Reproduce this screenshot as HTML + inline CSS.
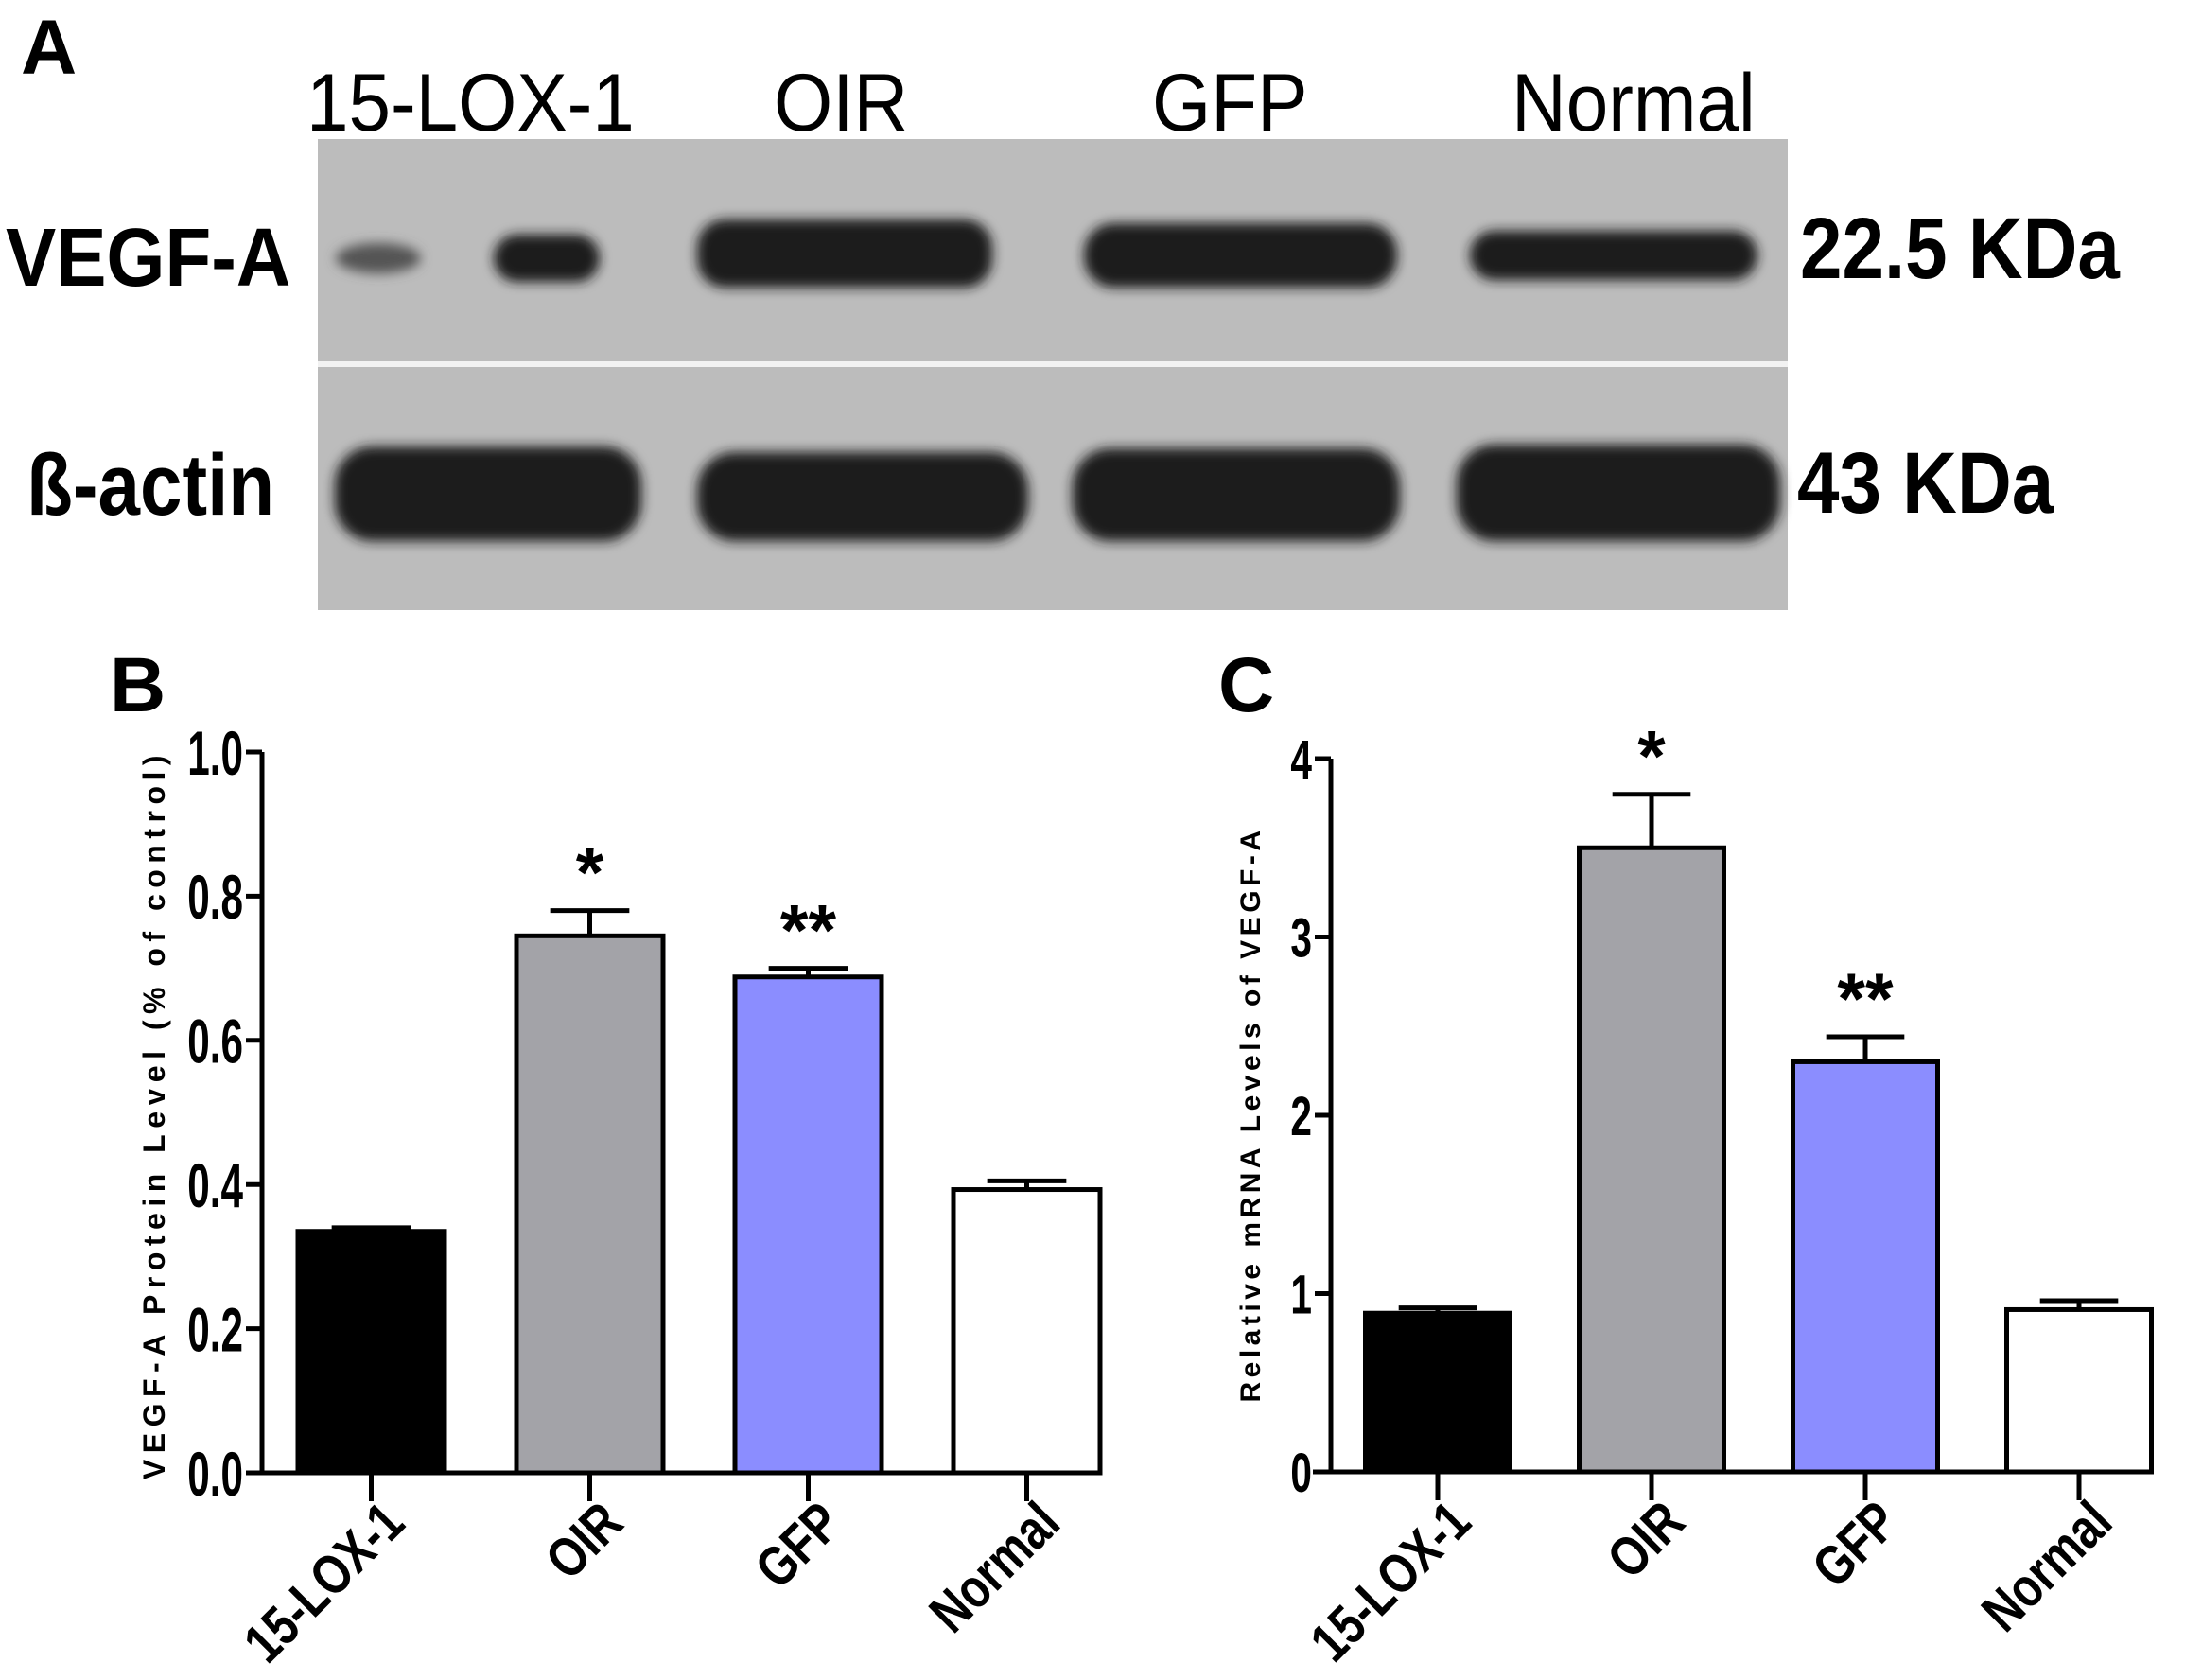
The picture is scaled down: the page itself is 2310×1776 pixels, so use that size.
<!DOCTYPE html>
<html><head><meta charset="utf-8"><style>
html,body{margin:0;padding:0;background:#fff;}
svg{display:block;}
text{font-family:"Liberation Sans",Arial,sans-serif;}
</style></head><body>
<svg id="fig" width="2310" height="1776" viewBox="0 0 2310 1776" xmlns="http://www.w3.org/2000/svg">
<defs>
<filter id="blur" x="-20%" y="-50%" width="140%" height="200%"><feGaussianBlur stdDeviation="6"/></filter>
</defs>
<g>
<text x="22" y="78" font-size="82" font-weight="bold">A</text>
<text transform="translate(324,138) scale(1,1.08)" font-size="80">15-LOX-1</text>
<text transform="translate(818,138) scale(1,1.08)" font-size="80">OIR</text>
<text transform="translate(1218,138) scale(1,1.08)" font-size="80">GFP</text>
<text transform="translate(1598,138) scale(1,1.08)" font-size="80">Normal</text>
<rect x="336" y="147" width="1554" height="498" fill="#bcbcbc"/>
<rect x="336" y="382" width="1554" height="6" fill="#f2f2f2"/>
<g filter="url(#blur)" fill="#1e1e1e">
<ellipse cx="400" cy="273" rx="45" ry="16" fill="#555"/>
<rect x="522" y="248" width="112" height="50" rx="25"/>
<rect x="737" y="232" width="312" height="72" rx="30"/>
<rect x="1146" y="236" width="331" height="68" rx="32"/>
<rect x="1554" y="244" width="304" height="52" rx="26"/>
</g>
<g filter="url(#blur)" fill="#1e1e1e">
<rect x="354" y="472" width="324" height="100" rx="40"/>
<rect x="737" y="478" width="350" height="94" rx="40"/>
<rect x="1134" y="474" width="346" height="98" rx="40"/>
<rect x="1540" y="470" width="342" height="102" rx="40"/>
</g>
<text transform="translate(6,302) scale(1.05,1.15)" font-size="76" font-weight="bold">VEGF-A</text>
<text transform="translate(28,544) scale(1.0,1.15)" font-size="80" font-weight="bold">ß-actin</text>
<text transform="translate(1903,294) scale(1.0,1.15)" font-size="80" font-weight="bold">22.5 KDa</text>
<text transform="translate(1900,542) scale(1.0,1.15)" font-size="80" font-weight="bold">43 KDa</text>
</g>
<g id="chartB"></g>
<g id="chartC"></g>
<text x="116" y="752" font-size="82" font-weight="bold">B</text>
<text x="1288" y="752" font-size="82" font-weight="bold">C</text>
</svg>
<script>
const categories = ["15-LOX-1","OIR","GFP","Normal"];
const colors = ["#000000","#a3a3a8","#8b8dff","#ffffff"];
const proteinValues = [0.335,0.745,0.688,0.393];
const proteinErrors = [0.005,0.035,0.012,0.012];
const proteinTicks = ["0.0","0.2","0.4","0.6","0.8","1.0"];
const proteinSig = ["","*","**",""];
const mrnaValues = [0.89,3.5,2.3,0.91];
const mrnaErrors = [0.03,0.3,0.14,0.05];
const mrnaTicks = ["0","1","2","3","4"];
const mrnaSig = ["","*","**",""];

const NS="http://www.w3.org/2000/svg";
function mk(parent,tag,attrs,txt){const e=document.createElementNS(NS,tag);for(const k in attrs)e.setAttribute(k,attrs[k]);if(txt!==undefined)e.textContent=txt;parent.appendChild(e);return e;}

function drawChart(g,cfg){
  const y=v=>cfg.y0-(v/cfg.max)*(cfg.y0-cfg.yTop);
  const bw=cfg.barW, lw=cfg.lw;
  categories.forEach((c,i)=>{
    const cx=cfg.x0+cfg.step*(i+0.5);
    const v=cfg.values[i], e=cfg.errors[i];
    const ex=mk(g,'path',{d:`M${cx},${y(v)} V${y(v+e)} M${cx-bw*0.27},${y(v+e)} H${cx+bw*0.27}`,stroke:'#000','stroke-width':lw,fill:'none'});
    
    
    const r=mk(g,'rect',{x:cx-bw/2,y:y(v),width:bw,height:y(0)-y(v),fill:colors[i],stroke:'#000','stroke-width':lw});
    
    
    if(cfg.sig[i]){
      const s=mk(g,'text',{x:cx,y:y(v+e)-cfg.sigGap,'font-size':cfg.sigSize,'font-weight':'bold','text-anchor':'middle'},cfg.sig[i]);
      
      
    }
    const t=mk(g,'line',{x1:cx,x2:cx,y1:cfg.y0,y2:cfg.y0+cfg.tickLen,stroke:'#000','stroke-width':lw});
    
    
    const lx=cx+38, ly=cfg.y0+cfg.tickLen+26;
    const l=mk(g,'text',{x:0,y:0,'font-size':cfg.xSize,'font-weight':'bold','text-anchor':'end',transform:`translate(${lx},${ly}) rotate(-45) scale(0.85,1.05)`},c);
    
    
  });
  const ax=mk(g,'path',{d:`M${cfg.x0},${cfg.yTop} V${cfg.y0} M${cfg.xStart},${cfg.y0} H${cfg.x0+cfg.step*4-(cfg.step-bw)/2}`,stroke:'#000','stroke-width':lw,fill:'none'});
  
  
  cfg.ticks.forEach((tk,i)=>{
    const v=cfg.max*i/(cfg.ticks.length-1);
    const tl=mk(g,'line',{x1:cfg.x0-17,x2:cfg.x0,y1:y(v),y2:y(v),stroke:'#000','stroke-width':lw});
    
    
    const tt=mk(g,'text',{x:0,y:0,'font-size':cfg.tickSize,'font-weight':'bold','text-anchor':'end',transform:`translate(${cfg.x0-20},${y(v)+cfg.tickSize*0.36}) scale(${cfg.tickSx},1)`},tk);
    
    
  });
  const yt=mk(g,'text',{x:0,y:0,'font-size':cfg.titleSize,'font-weight':'bold','text-anchor':'middle','letter-spacing':cfg.ls,transform:`translate(${cfg.titleX},${cfg.titleY}) rotate(-90)`},cfg.title);
  
  
}
drawChart(document.getElementById('chartB'),{x0:277,xStart:260,step:231,barW:155,y0:1557,yTop:795,max:1.0,lw:5,values:proteinValues,errors:proteinErrors,ticks:proteinTicks,sig:proteinSig,sigGap:14,sigSize:76,tickLen:30,xSize:56,tickSize:66,tickSx:0.64,titleSize:32,ls:6.5,titleX:174,titleY:1178,title:"VEGF-A Protein Level (% of control)"});
drawChart(document.getElementById('chartC'),{x0:1407,xStart:1388,step:226,barW:153,y0:1556,yTop:802,max:4,lw:5,values:mrnaValues,errors:mrnaErrors,ticks:mrnaTicks,sig:mrnaSig,sigGap:14,sigSize:76,tickLen:30,xSize:56,tickSize:58,tickSx:0.7,titleSize:30,ls:4.5,titleX:1332,titleY:1178,title:"Relative mRNA Levels of VEGF-A"});
</script>
</body></html>
